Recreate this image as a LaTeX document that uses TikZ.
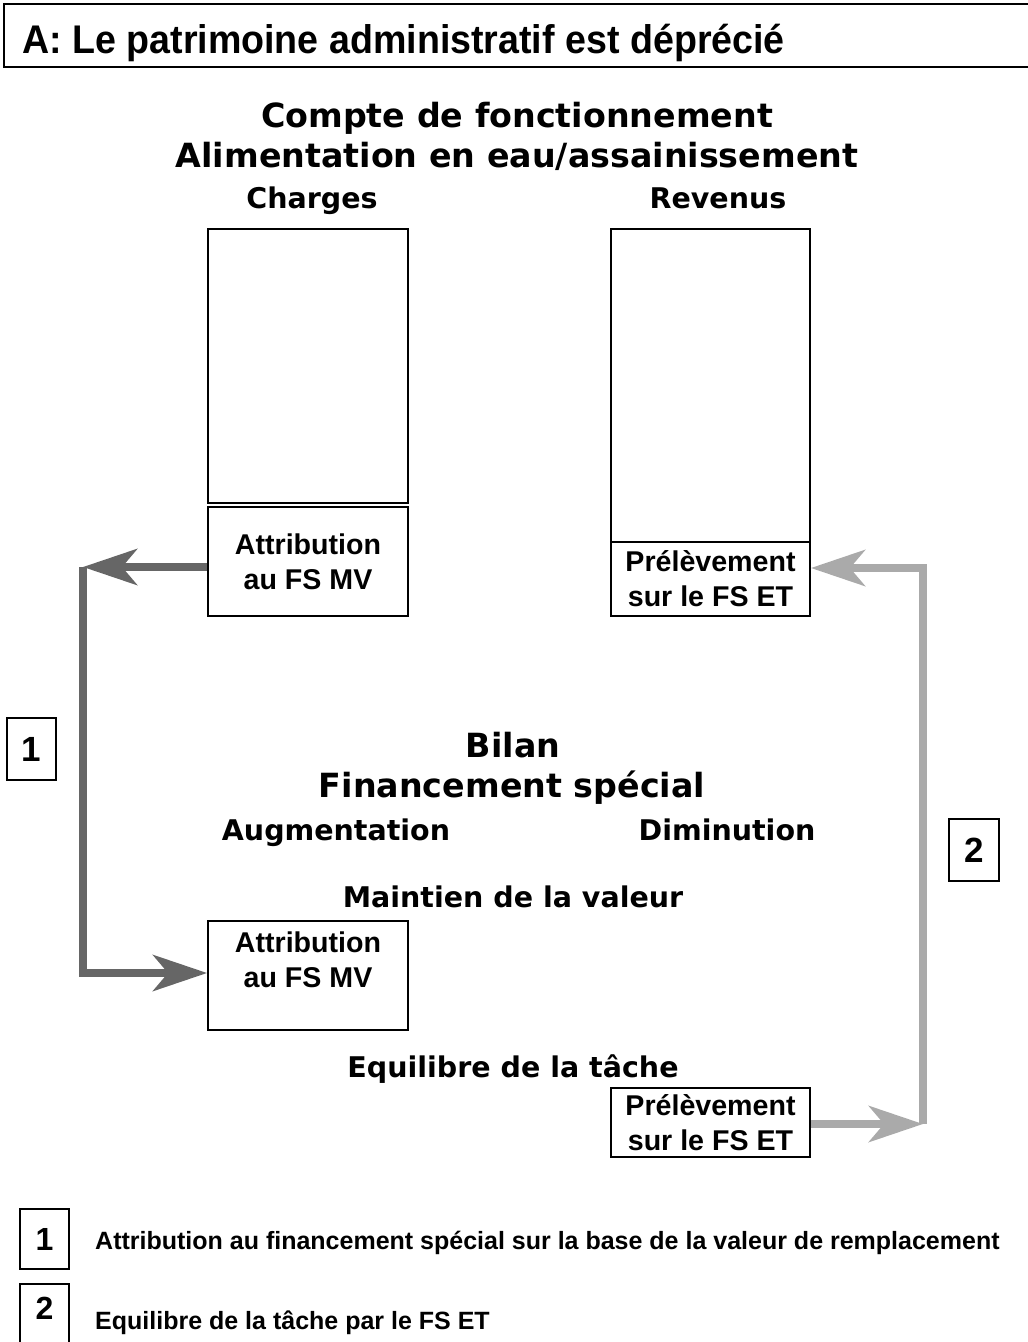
\documentclass[tikz,border=0pt]{standalone}
\usepackage{fontspec}
\setmainfont{Liberation Sans}
\newfontfamily\vfont{DejaVu Sans}
\usetikzlibrary{arrows.meta}
\definecolor{arrowdark}{RGB}{102,102,102}
\definecolor{arrowlight}{RGB}{170,170,170}

\begin{document}
\begin{tikzpicture}[x=1pt,y=-1pt]
			\tikzstyle{BOX}=[draw=black,line width=1.8pt,inner sep=0pt,minimum width=200pt,align=center,font=\bfseries\fontsize{28.6}{35}\selectfont]
			\tikzstyle{HEAD}=[font=\vfont\bfseries\fontsize{33.3}{38}\selectfont,anchor=base]
			\tikzstyle{SUB}=[font=\vfont\bfseries\fontsize{28.5}{34}\selectfont,anchor=base]
			\tikzstyle{NUM}=[draw=black,line width=1.8pt,inner sep=0pt,minimum width=49pt,minimum height=62pt,font=\bfseries\fontsize{35}{38}\selectfont]
			\tikzstyle{FLOW}=[line width=8pt,-{Stealth[length=54pt,width=36pt,inset=15pt]}]
			\useasboundingbox (0,0) rectangle (1028,1342);
			
			% title
			\draw[line width=2.2pt] (1028,4) -- (4,4) -- (4,67) -- (1028,67);
			\node[anchor=base west,inner sep=0pt,font=\bfseries\fontsize{40}{44}\selectfont] (A-0) at (22,53) {\scalebox{0.94}[1]{A: Le patrimoine administratif est déprécié}};
			
			\begin{scope}
			\node[HEAD] (CF-1) at (517,127) {Compte de fonctionnement};
			\node[HEAD] (CF-2) at (517,167) {Alimentation en eau/assainissement};
			\node[SUB]  (CH-0) at (312,208) {Charges};
			\node[SUB]  (RE-0) at (718,208) {Revenus};
			\node[BOX,minimum height=274pt] (CH-1) at (308,366)   {};
			\node[BOX,minimum height=109pt] (MV-1) at (308,561.5) {Attribution\\au FS MV};
			\node[BOX,minimum width=199pt,minimum height=313pt] (RE-1) at (710.5,385.5) {};
			\node[BOX,minimum width=199pt,minimum height=74pt]  (ET-1) at (710.5,579)   {Prélèvement\\sur le FS ET};
			\end{scope}
			
			\begin{scope}
			\node[HEAD] (BI-1) at (513,757) {Bilan};
			\node[HEAD] (BI-2) at (512,797) {Financement spécial};
			\node[SUB]  (AU-0) at (336,840) {Augmentation};
			\node[SUB]  (DI-0) at (727,840) {Diminution};
			\node[SUB]  (MV-0) at (513,907) {Maintien de la valeur};
			\node[BOX,minimum height=109pt] (MV-2) at (308,975.5) {};
			\node[anchor=north,yshift=-11pt,align=center,inner sep=0pt,font=\bfseries\fontsize{28.6}{35}\selectfont] (MV-3) at (MV-2.north) {Attribution\\au FS MV};
			\node[SUB]  (ET-0) at (513,1077) {Equilibre de la tâche};
			\node[BOX,minimum width=199pt,minimum height=69pt] (ET-2) at (710.5,1122.5) {Prélèvement\\sur le FS ET};
			\end{scope}
			
			\node[NUM] (N-1) at (31.5,749) {1};
			\node[NUM,minimum width=50pt] (N-2) at (974,850) {2};
			
			\coordinate (C-1) at (83,567);
			\coordinate (C-2) at (83,973);
			\coordinate (C-3) at (923,568);
			\coordinate (C-4) at (923,1124);
			
			\draw[FLOW,draw=arrowdark] (MV-1.west |- C-1) -- (C-1);
			\draw[FLOW,draw=arrowdark] (C-1) -- (C-2) -- (MV-2.west |- C-2);
			\draw[FLOW,draw=arrowlight] (ET-2.east |- C-4) -- (C-4);
			\draw[FLOW,draw=arrowlight] (C-4) -- (C-3) -- (ET-1.east |- C-3);
			
			% legend
			\node[NUM,minimum height=60pt,font=\bfseries\fontsize{32}{36}\selectfont] (L-1) at (44.5,1239) {1};
			\node[anchor=base west,inner sep=0pt,font=\bfseries\fontsize{25}{30}\selectfont] (T-1) at (95,1249) {Attribution au financement spécial sur la base de la valeur de remplacement};
			\node[inner sep=0pt,font=\bfseries\fontsize{32}{36}\selectfont] (L-2) at (44.5,1308) {2};
			\draw[line width=1.8pt] (20,1342) |- (69,1284) -- (69,1342);
			\node[anchor=base west,inner sep=0pt,font=\bfseries\fontsize{25}{30}\selectfont] (T-2) at (95,1329) {Equilibre de la tâche par le FS ET};
		\end{tikzpicture}
\end{document}
